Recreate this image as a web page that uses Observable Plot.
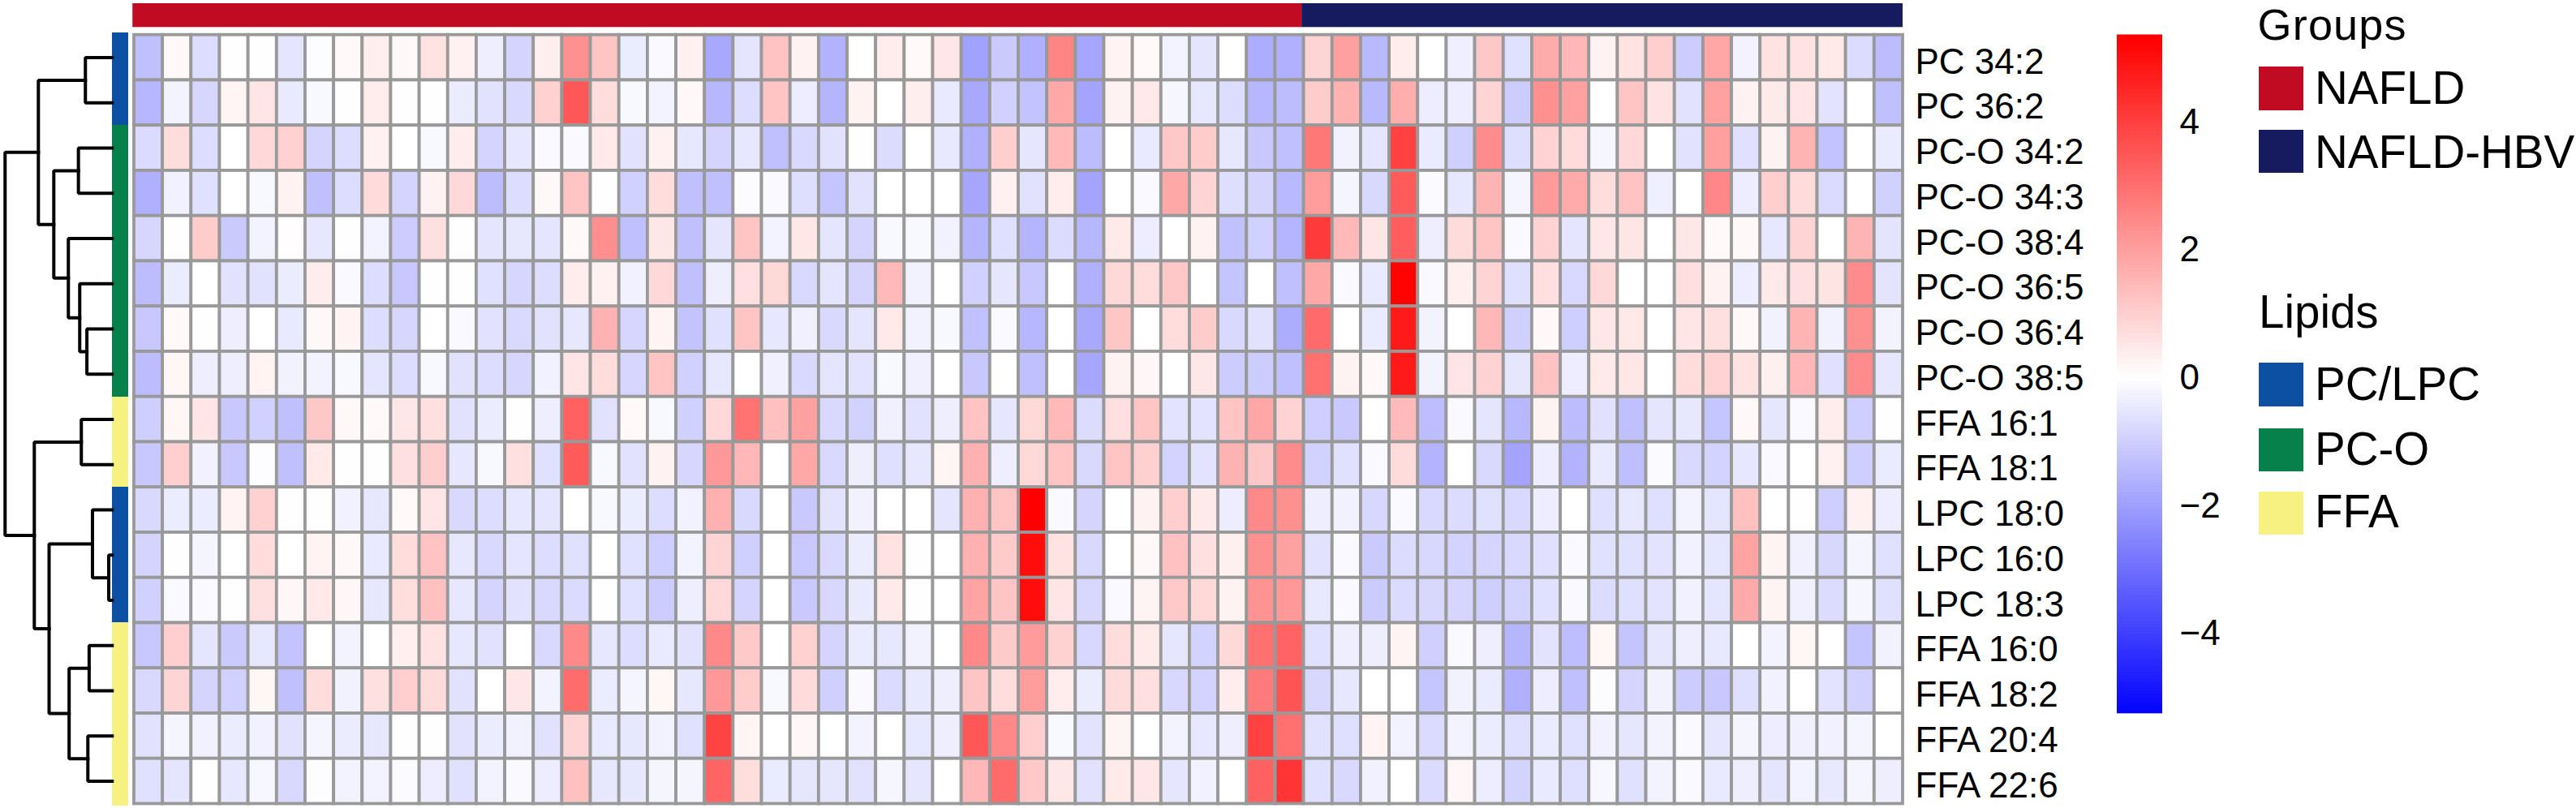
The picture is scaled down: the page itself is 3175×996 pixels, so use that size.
<!DOCTYPE html>
<html>
<head>
<meta charset="utf-8">
<script src="https://cdn.jsdelivr.net/npm/d3@7"></script>
<script src="https://cdn.jsdelivr.net/npm/@observablehq/plot@0.6"></script>
<style>
html,body{margin:0;padding:0;background:#fff;}
#root{position:relative;width:3175px;height:996px;overflow:hidden;background:#fff;font-family:"Liberation Sans",Arial,sans-serif;color:#000;}
#root>div.plot{position:absolute;top:0;}
.lg{position:absolute;line-height:1;font-size:56.5px;white-space:nowrap;}
.sw{position:absolute;width:55px;}
</style>
</head>
<body>
<div id="root"></div>
<script>
const lipids = ["PC 34:2","PC 36:2","PC-O 34:2","PC-O 34:3","PC-O 38:4","PC-O 36:5","PC-O 36:4","PC-O 38:5","FFA 16:1","FFA 18:1","LPC 18:0","LPC 16:0","LPC 18:3","FFA 16:0","FFA 18:2","FFA 20:4","FFA 22:6"];
const lipidClass = ["PC/LPC","PC/LPC","PC-O","PC-O","PC-O","PC-O","PC-O","PC-O","FFA","FFA","PC/LPC","PC/LPC","PC/LPC","FFA","FFA","FFA","FFA"];
const groupNames = ["NAFLD","NAFLD-HBV"];
const groupSizes = [41,21];
const groupColors = ["#c10b23","#151b5e"];
const classNames = ["PC/LPC","PC-O","FFA"];
const classColors = ["#0b50a2","#07814c","#f7f182"];

const pc342 = [-1.3,.15,-.7,.02,-.03,-.55,-.05,.12,.35,.15,.6,.3,-.35,-.9,.35,2.3,1.2,-.4,-.12,.3,-1.8,-.55,1.25,.28,-1.6,0,.38,.13,.5,-1.95,-1.1,-1.65,2.55,-1.85,.25,.12,-.25,-.55,0,-1.7,-1.65,.9,2,-1.45,.38,0,-.33,1.15,-.65,1.75,1.5,.27,.6,1,-1.05,1.85,-.25,.6,.58,.45,-.72,-1.4];
const pc362 = [-1.5,-.25,-.85,.2,.55,-.45,-.15,.02,.4,.02,.02,-.4,-.6,-.8,.95,3.5,.7,-.15,-.25,.15,-1.5,-.7,1.2,-.38,-1.55,.28,0,.35,-.45,-1.8,-.95,-1.25,1.8,-1.9,.28,.45,-.18,-.5,-.7,-1.5,-1.4,1.05,1.6,-1.45,1.7,-.38,-.38,.9,-1.05,2.3,1.95,0,1.2,.6,-.6,1.95,.28,.43,.55,-.58,0,-1.3];
const pco342 = [-.75,.7,-.7,0,.8,.95,-.9,-.7,.3,0,-.15,.4,-.9,-.5,-.12,-.13,.45,-.6,.3,-.5,-.9,-.5,-1.3,-.8,-.6,-.02,-.72,0,-.48,-1.65,1,-.52,1.45,-1.4,0,-.45,1.15,1.05,-.5,-1.15,-1.3,2.8,-.28,-.55,3.95,-.42,-.98,2.4,-.68,.92,.72,-.18,.8,0,-.6,2,-.62,.26,1.55,-1.25,0,-.42];
const pco343 = [-1.65,-.3,-.65,0,-.15,.28,-1.3,-.7,.75,-.9,.28,.8,-1.4,-.7,.15,1.2,.03,-.95,.7,-1.3,-1.3,-.07,-.13,-.68,-1.2,-.6,0,0,0,-1.85,.3,-.6,.38,-1.9,0,-.13,1.8,.9,-.68,-.9,-1.45,2.05,-.2,-.8,3.4,-.1,-.5,1.55,-.2,2.1,1.75,.7,1.25,-.33,0,2.5,-.38,1,.72,-.75,0,-.95];
const pco384 = [-.85,.03,1.05,-1.1,-.25,.05,-.5,.03,-.25,-1.05,.65,-.03,-.55,-.5,-.55,.12,2.35,-1.3,.5,-1.3,-.55,1.2,-.25,.5,-.55,-.9,-.14,-.14,-.27,-1.55,-.66,-1.55,-.72,-1.5,.45,-.38,0,.27,-1.28,-.95,-1.55,4.1,1.45,.52,3.35,-.36,.72,1.2,-.13,.92,-.55,.5,.52,0,.5,.13,.15,-.5,.9,0,1.55,-.56];
const pco365 = [-1.4,-.4,.01,-.6,-.6,-.4,.4,-.12,-.7,-1.15,.02,.03,-.65,-.85,-.7,.38,.3,-.3,.8,-1.3,-.35,.67,.82,-.8,-.55,-.9,1.45,-.27,0,-.95,-.52,-1.15,0,-1.65,.82,.7,1.15,0,-1.22,0,-1.3,1.8,-.13,-.45,5.25,-.13,.33,.9,-.66,.67,-.78,.78,0,0,.67,.27,-.38,.45,.65,.57,2.4,-.56];
const pco364 = [-1.15,.12,.02,-.35,0,-.45,.15,.25,-.7,-.85,0,-.12,-.6,-.8,-.6,-.5,1.6,-.85,.25,-1.25,-.65,1.22,-.5,-.32,-.8,-.55,.45,-.28,-.14,-1.28,-.13,-1.5,0,-1.8,1.18,0,.7,1.05,-.8,-.6,-1.7,3.1,0,-.42,4.75,-.25,0,1.5,-.98,.15,-1,.5,.48,0,.55,.65,.14,-.27,1.55,-.27,2.3,-.25];
const pco385 = [-1.4,.18,-.35,-.35,.25,-.27,-.25,-.15,-.55,-.7,-.15,-.6,-.7,-.85,-.3,.55,.7,-.85,1.2,-.95,-.5,0,-.32,-.8,-.55,-.58,-.14,-.32,0,-1.15,0,-1.3,0,-1.85,.27,.16,0,.5,-1.07,-1.05,-1.3,2.95,.27,.14,4.75,-.25,.55,.92,-.52,1.25,-.38,.43,.5,0,.7,.92,.6,.32,1.5,-.62,2.4,-.5];
const ffa161 = [-1,.18,.55,-1.15,-.95,-1.3,1.15,.15,.12,.5,.65,-.6,-.4,-.03,-.35,3.3,-.6,.12,-.15,-.95,.8,2.9,1.3,1.95,-.78,-.93,-.32,-.6,-.35,1.25,-.52,.82,1.45,-.72,.67,1.18,-.58,-.58,1.22,1.82,.92,-1,-1.12,0,1.42,-1.38,-.12,-.53,-1.48,.28,-1.4,-.62,-1.3,-.55,-.5,-1.2,.15,-.52,-.12,.37,-1,-.03];
const ffa181 = [-1.15,1,-.3,-1.15,-.05,-1.3,.45,.02,.02,.65,1,-.5,-.15,.65,-.65,3.4,-.15,-.6,.28,-.85,2.15,1.5,0,1.8,-.78,-.35,-.67,-.5,.2,1.65,-.35,.82,1.22,-.78,1.22,.98,-.92,-.58,1.6,1.15,2.4,-.93,-.65,-.12,.72,-1.58,0,-.78,-1.9,-.38,-1.6,-.45,-1.32,-.08,-.78,-.92,-.5,-.12,0,.3,-1.02,-.42];
const lpc180 = [-.8,-.4,-.4,.25,.95,.03,-.03,-.3,-.5,.12,.55,-.8,-.7,-.5,-.55,0,-.15,-.4,-.7,-.3,1.65,-.8,0,-1.12,-.58,-.27,0,0,-.55,1.65,1.22,5.3,-.12,-.9,0,.27,1,.43,-.38,2.45,2.3,-.36,-.3,-.82,-.13,-.8,-.72,-.65,-.78,-.38,0,-.67,-.5,-.67,-.25,-.55,1.3,0,-.02,-1.02,.3,-.38];
const lpc160 = [-.9,-.02,-.2,0,.7,0,.25,.15,-.45,.7,1.25,-.5,-.8,-.55,-.7,-.65,-.01,-.65,-1,-.25,.9,-.98,0,-1.12,-.78,-.4,.6,-.03,0,1.65,1.1,5.05,.6,-.78,0,.15,1.28,.65,.32,2.3,1.95,-.6,-.12,-1.1,-.73,-.82,-.92,-.87,-.78,-.62,-.12,-.65,-.65,-.58,-.3,-.52,1.92,.22,-.32,-.82,-.2,-.65];
const lpc183 = [-.95,-.12,-.12,.02,.65,.17,.45,.17,-.5,.68,1.3,-.5,-.9,-.6,-.8,-.75,-.03,-.65,-1.05,-.35,.8,-.9,0,-1.12,-.82,-.43,.43,-.03,0,1.92,1.2,5.05,.55,-.82,-.13,.22,1.13,.82,.28,2.27,2.15,-.48,-.12,-1.08,-.75,-.82,-.87,-1.02,-.92,-.65,-.12,-.72,-.67,-.58,-.3,-.55,1.75,.22,-.32,-.72,-.18,-.65];
const ffa160 = [-1.15,1,-.55,-1.1,-.5,-1.25,0,-.25,0,.33,.6,-.5,-.6,0,-.8,2.45,-.5,-.7,-.45,-.6,2.45,1.13,0,.95,-.9,-.42,-.5,-.27,0,2.45,1.1,2.07,.93,-.83,.7,.43,-.52,-.92,.82,2.95,3.25,-.65,-.36,-.36,.22,-.98,-.12,-.36,-1.52,-.58,-1.38,.18,-1.22,-.52,-.36,-.48,0,-.25,.18,0,-1.22,-.27];
const ffa182 = [-.8,.9,-.9,-.95,.18,-1.3,.7,-.27,.65,1,.72,-.6,0,.5,-.25,3.05,-.4,-.2,.18,-.5,2.15,1.07,-.14,.75,-.98,-.12,-.75,-.48,-.36,1.2,.7,2.05,.38,-.4,.73,.65,-.82,-.92,.38,2.75,3.55,-.82,-.5,0,0,-1.2,-.27,-.42,-1.65,-.38,-1.3,-.07,-.87,-.27,-1.07,-1.15,-.67,-.3,0,-.58,-.93,0];
const ffa204 = [-.6,-.2,-.3,-.4,-.3,-.6,-.2,-.4,-.5,-.03,-.03,-.6,-.4,-.28,-.6,.9,-.45,-.5,-.28,-.65,3.9,.2,0,.17,0,-.25,0,-.5,-.36,3.5,2.45,1,-.14,-.58,.22,0,-.25,-.5,-.35,3.95,2.95,-.6,-.67,.25,-.28,-.75,-.25,-.4,-.67,-.42,-.65,-.3,-.52,-.25,-.12,-.52,-.2,-.38,-.32,-.3,-.2,0];
const ffa226 = [-.65,-.55,-.03,-.5,-.17,-.8,-.05,-.25,-.25,-.08,-.38,-.65,-.25,-.12,-.38,1.3,-.5,-.5,-.2,-.2,3.25,.68,-.42,-.52,-.52,-.6,-.18,-.52,0,1.5,3.1,1.13,.5,-.6,.43,.5,-.52,-.3,0,3.3,4.2,-.65,-.78,-.3,0,-.75,.17,-.38,-.92,-.45,-.67,-.17,-.65,-.25,-.12,-.45,-.36,-.55,-.25,-.48,-.2,-.36];
const matrix = [pc342,pc362,pco342,pco343,pco384,pco365,pco364,pco385,ffa161,ffa181,lpc180,lpc160,lpc183,ffa160,ffa182,ffa204,ffa226];

// Row dendrogram as a merge table: [left, right, height]; negative = leaf row, positive = earlier merge
const rowMerges = [[-1,-2,2.5],[-3,-4,3.15],[-7,-8,2.36],[-6,3,3.03],[-5,4,4.09],[2,5,5.45],[1,6,6.89],[-9,-10,2.88],[-12,-13,.32],[-11,9,1.84],[-14,-15,2.15],[-16,-17,2.27],[11,12,4.02],[10,13,5.89],[8,14,7.27],[7,15,10]];

const colorScale = {type:"linear", domain:[-5.3,0,5.3], range:["#0000ff","#ffffff","#ff0000"], clamp:true};

const cells = matrix.flatMap((vals,r)=>vals.map((v,c)=>({r,c,v})));
const classColor = new Map(classNames.map((n,i)=>[n,classColors[i]]));
const nCols = groupSizes[0]+groupSizes[1];
const nRows = lipids.length;

const stripLeft = [-0.775,-0.207];   // column units, left of the grid
const stripTop  = [-0.695,-0.168];   // row units, above the grid
const stripPad  = 0.05;              // row units the side strip overhangs the grid
const dendUnit = 0.3754;             // column units per height unit
const dendX = h => stripLeft[0]-h*dendUnit;

const nodePos = [];
const dendPts = [];
const pos = k => k<0 ? {h:0,y:-k-0.5} : nodePos[k-1];
rowMerges.forEach(([a,b,h],i)=>{
  const A=pos(a),B=pos(b);
  nodePos.push({h,y:(A.y+B.y)/2});
  dendPts.push({n:i,h:A.h,y:A.y},{n:i,h,y:A.y},{n:i,h,y:B.y},{n:i,h:B.h,y:B.y});
});

const groupSpans = [{n:0,a:-0.05,b:groupSizes[0]-0.07},{n:1,a:groupSizes[0]-0.07,b:nCols}];

const main = Plot.plot({
  width:2600,height:996,margin:0,
  x:{type:"linear",domain:[0,nCols],range:[165,2345],axis:null},
  y:{type:"linear",domain:[0,nRows],range:[42.7,990.5],axis:null},
  color:colorScale,
  style:{background:"transparent",fontFamily:"'Liberation Sans',Arial,sans-serif"},
  marks:[
    Plot.rect(cells,{x1:"c",x2:d=>d.c+1,y1:"r",y2:d=>d.r+1,fill:"v",stroke:"#999999",strokeWidth:3.8}),
    Plot.rect(groupSpans,{x1:"a",x2:"b",y1:()=>stripTop[0],y2:()=>stripTop[1],fill:d=>groupColors[d.n]}),
    Plot.rect(lipidClass,{x1:()=>stripLeft[0],x2:()=>stripLeft[1],y1:(d,i)=>i===0?-stripPad:i,y2:(d,i)=>i===nRows-1?nRows+stripPad:i+1,fill:d=>classColor.get(d),shapeRendering:"crispEdges"}),
    Plot.line(dendPts,{x:d=>dendX(d.h),y:"y",z:"n",stroke:"#000",strokeWidth:4,strokeLinejoin:"miter",strokeLinecap:"square",curve:"linear"}),
    Plot.text(lipids,{x:()=>nCols,y:(d,i)=>i+0.5,text:d=>d,textAnchor:"start",dx:15,dy:5.5,fontSize:44,fill:"#000"})
  ]
});

const ramp = d3.range(-5.25,5.36,0.05);
const bar = Plot.plot({
  width:176,height:996,marginLeft:0,marginRight:120,marginTop:0,marginBottom:0,
  x:{type:"linear",domain:[0,1],range:[0,56],axis:null},
  y:{type:"linear",domain:[-5.25,5.36],range:[879.3,42.7],axis:null},
  color:colorScale,
  style:{background:"transparent",fontFamily:"'Liberation Sans',Arial,sans-serif",fontSize:"44px"},
  marks:[
    Plot.rect(ramp,{x1:()=>0,x2:()=>1,y1:d=>d,y2:d=>Math.min(d+0.06,5.36),fill:d=>d+0.025}),
    Plot.axisY({anchor:"right",ticks:[-4,-2,0,2,4],tickSize:0,tickPadding:21,tickFormat:d=>d<0?"\u2212"+(-d):String(d),fontSize:44,label:null,fontVariant:"normal"})
  ]
});

const root = document.getElementById("root");
const place = (node,left)=>{const w=document.createElement("div");w.className="plot";w.style.left=left+"px";w.appendChild(node);root.appendChild(w);};
place(main,0);
place(bar,2609);

const lgText=(t,x,base,size,spacing)=>{
  const fs=size||56.5;
  const s=document.createElement("div");s.className="lg";s.textContent=t;
  s.style.fontSize=fs+"px";
  if(spacing) s.style.letterSpacing=spacing+"px";
  s.style.left=x+"px";s.style.top=(base-0.8465*fs)+"px";root.appendChild(s);
};
const lgSwatch=(c,top,h)=>{const s=document.createElement("div");s.className="sw";s.style.left="2784.3px";s.style.top=top+"px";s.style.height=h+"px";s.style.background=c;root.appendChild(s);};
lgText("Groups",2782.5,49,54,1.2);
lgSwatch(groupColors[0],81.7,54.3); lgText(groupNames[0],2853,129.3);
lgSwatch(groupColors[1],160.3,53); lgText(groupNames[1],2853,208.3);
lgText("Lipids",2784,405.3);
lgSwatch(classColors[0],446.6,54.7); lgText(classNames[0],2853,493.6);
lgSwatch(classColors[1],528,53.3); lgText(classNames[1],2853,573.7);
lgSwatch(classColors[2],605.5,53.3); lgText(classNames[2],2853,651.2);
</script>
</body>
</html>
